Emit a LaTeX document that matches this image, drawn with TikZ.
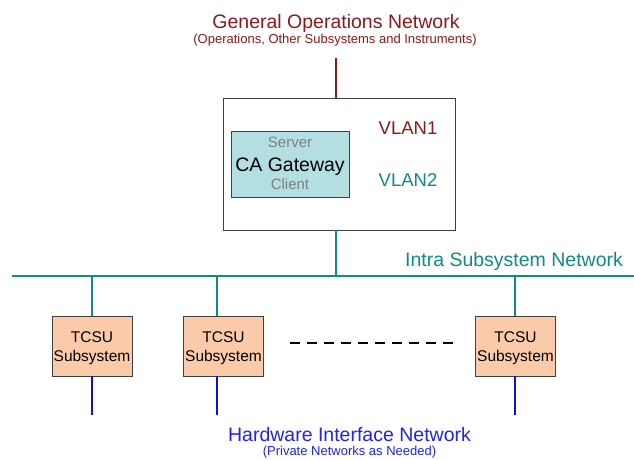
\documentclass[tikz,border=0pt]{standalone}
\usepackage{fontspec}
\setmainfont{Liberation Sans}
\definecolor{netred}{HTML}{8B1A1A}
\definecolor{netteal}{HTML}{13898A}
\definecolor{netblue}{HTML}{1010D0}
\definecolor{hwblue}{HTML}{2222EE}
\definecolor{gwfill}{HTML}{B4DFE2}
\definecolor{subfill}{HTML}{FBCBA9}
\definecolor{boxline}{HTML}{404040}
\begin{document}
\begin{tikzpicture}[x=1pt,y=-1pt,
  bigtxt/.style={inner sep=0pt,font=\fontsize{19.5}{22}\selectfont},
  smalltxt/.style={inner sep=0pt,font=\fontsize{13}{15}\selectfont},
  subbox/.style={draw=boxline,line width=0.9pt,fill=subfill,minimum width=80pt,minimum height=60pt,inner sep=0pt},
  sublabel/.style={inner sep=0pt,align=center,font=\fontsize{15.5}{19}\selectfont},
  tealline/.style={draw=netteal,line width=2.2pt},
  blueline/.style={draw=netblue,line width=2.2pt}]
\useasboundingbox (0,0) rectangle (634,460);
\fill[white] (0,0) rectangle (634,460);

% headings
\node[bigtxt,text=netred] (gon) at (336,23.5) {General Operations Network};
\node[smalltxt,text=netred] (gonsub) at (335,40.5) {(Operations, Other Subsystems and Instruments)};
\coordinate (gonfoot) at (336,58);

% gateway host with its two VLANs
\node[draw=boxline,line width=0.9pt,fill=white,minimum width=232pt,minimum height=132pt,inner sep=0pt] (host) at (339.5,164) {};
\node[draw=boxline,line width=0.9pt,fill=gwfill,minimum width=118pt,minimum height=66pt,inner sep=0pt] (gw) at (290,164) {};
\node[inner sep=0pt,text=gray,font=\fontsize{15}{18}\selectfont] (srv) at (290,142.5) {Server};
\node[bigtxt] (cagw) at (290,167) {CA Gateway};
\node[inner sep=0pt,text=gray,font=\fontsize{15}{18}\selectfont] (cli) at (290,184.5) {Client};
\node[inner sep=0pt,text=netred,font=\fontsize{18.5}{22}\selectfont] (vlan1) at (408,128) {VLAN1};
\node[inner sep=0pt,text=netteal,font=\fontsize{18.5}{22}\selectfont] (vlan2) at (408,180) {VLAN2};

\draw[netred,line width=2.2pt] (gonfoot) -- (gonfoot |- host.north);

% intra subsystem bus
\coordinate (busL) at (12,276);
\coordinate (busR) at (634,276);
\coordinate (busJ) at (336,276);
\draw[tealline] (busL) -- (busR);
\draw[tealline] (host.south -| busJ) -- (busJ);
\node[bigtxt,text=netteal] (intra) at (514,261.5) {Intra Subsystem Network};

% subsystems, each tapped off the bus at its port column
\node[subbox] (s1) at (92,346) {};
\node[subbox] (s2) at (223.5,346) {};
\node[subbox] (s3) at (515.5,346) {};
\foreach \i in {1,2,3}{
  \node[sublabel] (t\i) at ([yshift=-2pt]s\i.center) {TCSU\\Subsystem};
}
\coordinate (p1) at (92,0);
\coordinate (p2) at (217,0);
\coordinate (p3) at (515,0);
\foreach \i in {1,2,3}{
  \draw[tealline] (p\i |- busL) -- (p\i |- s\i.north);
  \coordinate (f\i) at ([yshift=-39pt]p\i |- s\i.south);
  \draw[blueline] (p\i |- s\i.south) -- (f\i);
}
\coordinate (dotsL) at (290,343);
\coordinate (dotsR) at (456,343);
\draw[black,line width=2pt,dash pattern=on 10pt off 7pt] (dotsL) -- (dotsR);

% hardware interface network
\node[bigtxt,text=hwblue] (hin) at (349.5,434.5) {Hardware Interface Network};
\node[smalltxt,text=hwblue] (hinsub) at (349.5,452) {(Private Networks as Needed)};
\end{tikzpicture}
\end{document}
